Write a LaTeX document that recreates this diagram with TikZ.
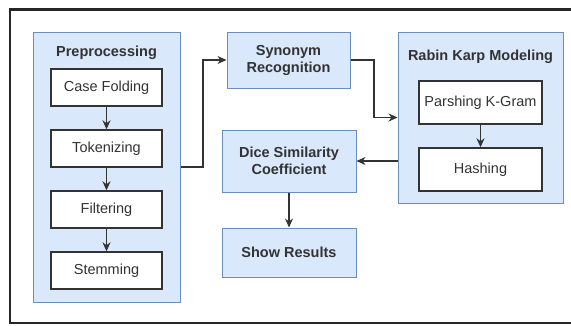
\documentclass[tikz,border=0pt]{standalone}
\usepackage{fontspec}
\setmainfont{Liberation Sans}
\usetikzlibrary{arrows.meta,calc}
\definecolor{grpfill}{HTML}{DAE8FC}
\definecolor{grpline}{HTML}{6C8EBF}
\definecolor{ink}{HTML}{333333}
\tikzset{
  grp/.style={draw=grpline,fill=grpfill,line width=1pt,inner sep=0pt,text=ink},
  wbox/.style={draw=ink,fill=white,line width=1.4pt,inner sep=0pt,text=ink,font=\fontsize{14.5}{16}\selectfont},
  bluebox/.style={grp,align=center,font=\bfseries\fontsize{14.5}{17}\selectfont},
  title/.style={text=ink,font=\bfseries\fontsize{14.5}{16}\selectfont,inner sep=0pt},
  conn/.style={draw=ink,line width=1.4pt,-{Stealth[length=9pt,width=8pt]}}
}
\begin{document}
\begin{tikzpicture}[x=1pt,y=-1pt]
\useasboundingbox (0,0) rectangle (571,325);
\draw[line width=2.4pt,color=black!85] (572,9.5) -- (10,9.5) -- (10,323) -- (572,323);
% Preprocessing group
\node[grp,minimum width=147pt,minimum height=270pt] (prep) at (106.5,167) {};
\node[title] (preptitle) at (106.5,53) {Preprocessing};
\node[wbox,minimum width=111pt,minimum height=37pt] (case) at (106.5,87.5) {Case Folding};
\node[wbox,minimum width=111pt,minimum height=37pt] (tok) at (106.5,148.5) {Tokenizing};
\node[wbox,minimum width=111pt,minimum height=37pt] (filt) at (106.5,209.5) {Filtering};
\node[wbox,minimum width=111pt,minimum height=37pt] (stem) at (106.5,270.5) {Stemming};
% middle column
\node[bluebox,minimum width=123pt,minimum height=56pt] (syn) at (288.5,60) {Synonym\\Recognition};
\node[bluebox,minimum width=134pt,minimum height=62pt] (dice) at (289,161) {Dice Similarity\\Coefficient};
\node[bluebox,minimum width=134pt,minimum height=49pt] (show) at (289,252.5) {Show Results};
% Rabin Karp group
\node[grp,minimum width=165pt,minimum height=171pt] (rabin) at (480.5,117.5) {};
\node[title] (rabintitle) at (480.5,57) {Rabin Karp Modeling};
\node[wbox,minimum width=123pt,minimum height=43pt] (pars) at (480.5,102.5) {Parshing K-Gram};
\node[wbox,minimum width=123pt,minimum height=43pt] (hash) at (480.5,169.5) {Hashing};
% connectors
\draw[conn] (case) -- (tok);
\draw[conn] (tok) -- (filt);
\draw[conn] (filt) -- (stem);
\draw[conn] (prep.east) -- (203,167) |- (syn.west);
\draw[conn] (syn.east) -- (374,60) |- (rabin.west);
\draw[conn] (pars) -- (hash);
\draw[conn] (dice.east -| rabin.west) -- (dice.east);
\draw[conn] (dice) -- (show);
\end{tikzpicture}
\end{document}
